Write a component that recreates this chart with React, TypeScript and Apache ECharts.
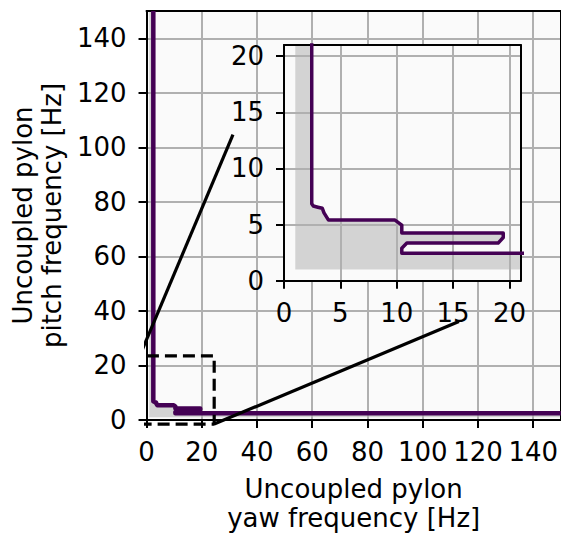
import React, { useEffect, useRef } from "react";
import * as echarts from "echarts";

// Contour of the coupled-frequency boundary (yaw [Hz], pitch [Hz])
const contourYaw = [2.46, 2.46, 2.6, 3.0, 3.4, 3.55, 3.95, 9.85, 10.45, 10.45, 19.45, 19.45, 19.0, 10.9, 10.45, 10.45, 150];
const contourPitch = [150, 6.85, 6.65, 6.55, 6.45, 6.05, 5.4, 5.4, 4.95, 4.25, 4.25, 3.85, 3.35, 3.35, 2.9, 2.45, 2.45];

// Lower bound of the computed domain (shaded region starts here)
const domainMin = 1;
const domainMax = 150;

// Zoom indicator rectangle (data units of the main axes)
const zoomRectYaw = [-2.5, 24.5, 24.5, -2.5, -2.5];
const zoomRectPitch = [-1.5, -1.5, 23.5, 23.5, -1.5];

// Connector lines (data units of the main axes)
const connector1Yaw = [-2.5, 31.3];
const connector1Pitch = [23.5, 104.7];
const connector2Yaw = [24.5, 113.1];
const connector2Pitch = [-1.5, 36.1];

// Axis ranges / tick steps
const mainRange = [0, 150];
const mainStep = 20;
const insetRange = [0, 21];
const insetStep = 5;

const FONT = "DejaVu Sans";
const FS = 26;
const PURPLE = "#440154";
const GRAY = "#d3d3d3";

const zip = (xs: number[], ys: number[]) => xs.map((x, i) => [x, ys[i]]);

const contourPts = zip(contourYaw, contourPitch);
const shadePts = [
  [domainMin, domainMax],
  ...contourPts,
  [domainMax, domainMin],
  [domainMin, domainMin],
];

const labelStyle = (margin: number) => ({
  show: true,
  showMaxLabel: false,
  color: "#000",
  fontSize: FS,
  fontFamily: FONT,
  margin,
});

function axisBase(min: number, max: number, step: number, gridIndex: number, z: number, margin: number) {
  return {
    type: "value",
    gridIndex,
    min,
    max,
    interval: step,
    z,
    axisLine: { show: true, onZero: false, lineStyle: { color: "#000", width: 2 } },
    axisTick: { show: true, length: 8, lineStyle: { color: "#000", width: 2 } },
    axisLabel: labelStyle(margin),
    splitLine: { show: true, lineStyle: { color: "#b0b0b0", width: 2 } },
  };
}

function spineOnly(gridIndex: number, min: number, max: number, position: string, z: number) {
  return {
    type: "value",
    gridIndex,
    min,
    max,
    position,
    z,
    axisLine: { show: true, onZero: false, lineStyle: { color: "#000", width: 2 } },
    axisTick: { show: false },
    axisLabel: { show: false },
    splitLine: { show: false },
  };
}

export default function App() {
  const ref = useRef<HTMLDivElement>(null);

  useEffect(() => {
    if (!ref.current) return;
    const chart = echarts.init(ref.current, undefined, { renderer: "svg" });

    const shadeSeries = (xi: number, z: number) => ({
      type: "custom",
      xAxisIndex: xi,
      yAxisIndex: xi,
      z,
      clip: true,
      silent: true,
      data: [[domainMin, domainMin]],
      renderItem: (_params: any, api: any) => ({
        type: "polygon",
        shape: { points: shadePts.map((p) => api.coord(p)) },
        style: { fill: GRAY },
      }),
    });

    const blackLine = (xs: number[], ys: number[], dashed: boolean) => ({
      type: "line",
      xAxisIndex: 0,
      yAxisIndex: 0,
      z: 4,
      clip: false,
      showSymbol: false,
      symbol: "none",
      data: zip(xs, ys),
      lineStyle: { color: "#000", width: 3.2, type: dashed ? [12, 6] : "solid" },
    });

    const option: any = {
      animation: false,
      backgroundColor: "#ffffff",
      grid: [
        { left: 146.5, top: 11, width: 416.5, height: 416.5, show: true, backgroundColor: "#fafafa", borderWidth: 0, z: 0 },
        { left: 284, top: 45, width: 236.7, height: 235.7, show: true, backgroundColor: "#fafafa", borderWidth: 0, z: 5 },
      ],
      xAxis: [
        {
          ...axisBase(mainRange[0], mainRange[1], mainStep, 0, 2, 19),
          position: "bottom",
          name: "Uncoupled pylon\nyaw frequency [Hz]",
          nameLocation: "middle",
          nameGap: 54,
          nameTextStyle: { fontSize: FS, fontFamily: FONT, color: "#000", lineHeight: 29 },
        },
        spineOnly(0, mainRange[0], mainRange[1], "top", 2),
        {
          ...axisBase(insetRange[0], insetRange[1], insetStep, 1, 7, 19),
          position: "bottom",
        },
        spineOnly(1, insetRange[0], insetRange[1], "top", 7),
      ],
      yAxis: [
        {
          ...axisBase(mainRange[0], mainRange[1], mainStep, 0, 2, 20),
          position: "left",
          name: "Uncoupled pylon\npitch frequency [Hz]",
          nameLocation: "middle",
          nameGap: 73,
          nameTextStyle: { fontSize: FS, fontFamily: FONT, color: "#000", lineHeight: 29 },
        },
        spineOnly(0, mainRange[0], mainRange[1], "right", 2),
        {
          ...axisBase(insetRange[0], insetRange[1], insetStep, 1, 7, 20),
          position: "left",
        },
        spineOnly(1, insetRange[0], insetRange[1], "right", 7),
      ],
      series: [
        shadeSeries(0, 1),
        {
          type: "line",
          xAxisIndex: 0,
          yAxisIndex: 0,
          z: 3,
          clip: true,
          showSymbol: false,
          symbol: "none",
          data: contourPts,
          lineStyle: { color: PURPLE, width: 4.5, join: "round" },
        },
        blackLine(zoomRectYaw, zoomRectPitch, true),
        blackLine(connector1Yaw, connector1Pitch, false),
        blackLine(connector2Yaw, connector2Pitch, false),
        shadeSeries(2, 6),
        {
          type: "line",
          xAxisIndex: 2,
          yAxisIndex: 2,
          z: 8,
          clip: true,
          showSymbol: false,
          symbol: "none",
          data: contourPts,
          lineStyle: { color: PURPLE, width: 3.5, join: "round" },
        },
      ],
    };

    chart.setOption(option);
    return () => chart.dispose();
  }, []);

  return (
    <div
      ref={ref}
      style={{ position: "absolute", left: 0, top: 0, width: 561, height: 537, background: "#fff" }}
    />
  );
}
